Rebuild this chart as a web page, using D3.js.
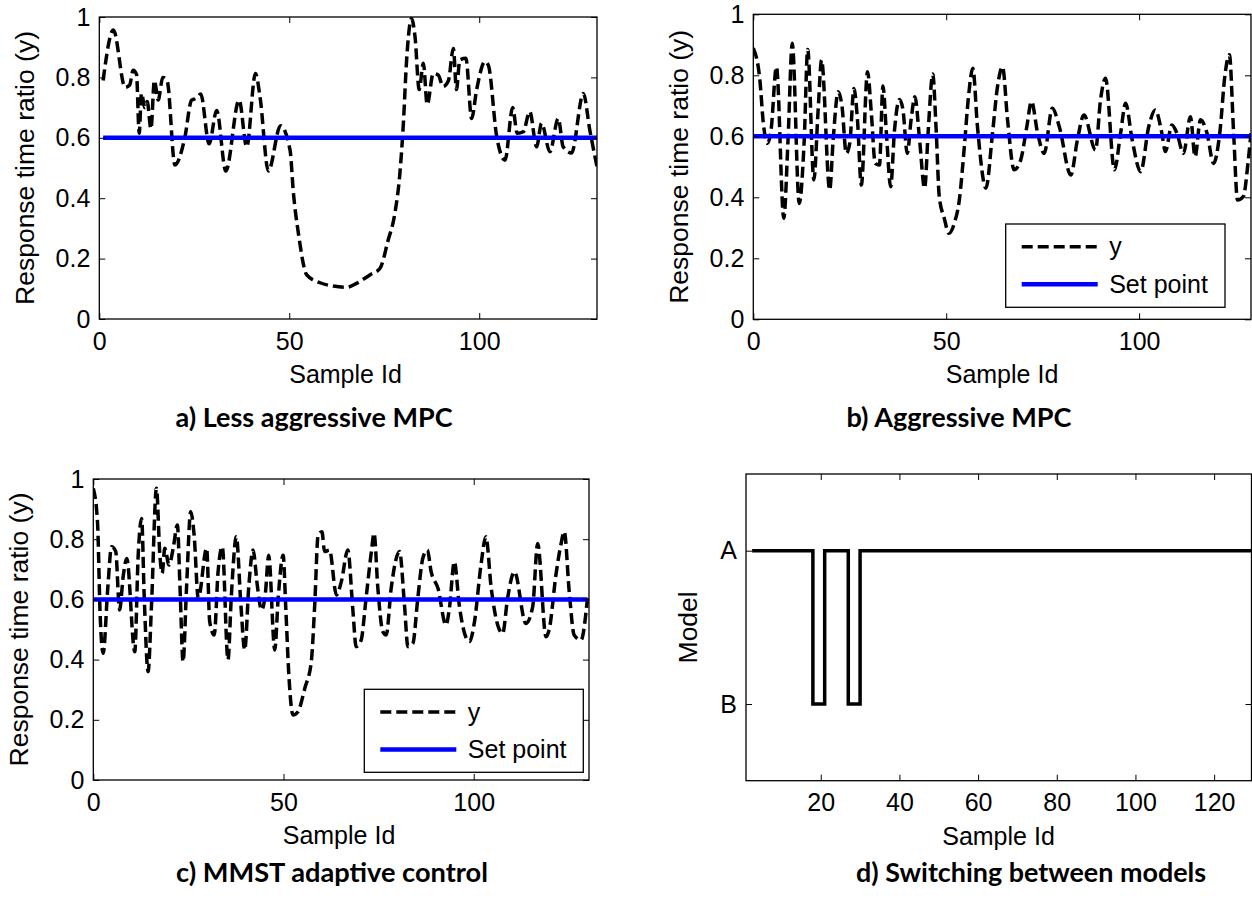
<!DOCTYPE html>
<html><head><meta charset="utf-8">
<script src="https://cdn.jsdelivr.net/npm/d3@7"></script>
<style>body{margin:0;background:#fff}svg{display:block}</style>
</head><body><svg id="c" width="1252" height="898"></svg>
<script>
// ---------- data ----------
const sampleA=[1,3.7,6.8,8,8.9,9.8,10.5,11.1,12,12.6,13.6,14.5,15.5,16.7,17.9,19.9,22.5,24.3,25.4,26.7,28.9,30.9,33.3,36.8,38.8,41.1,42.3,44.5,47.7,50.2,51.1,52.4,54.6,58.1,61.6,65.1,67.7,71.2,73.9,76,77.8,79.1,80,80.9,82.2,83.1,84.2,85.3,86.3,87.9,89.2,90.5,91.9,93.2,94,94.9,96.5,98,99.3,101.5,102.4,104.6,106.8,108.8,110,111.6,113.3,115.1,116.4,118.6,120.8,122.1,124.3,127.4,129.1,131];
const valueA=[0.79,0.957,0.767,0.775,0.824,0.81,0.615,0.747,0.70,0.72,0.63,0.79,0.725,0.80,0.786,0.51,0.60,0.725,0.73,0.745,0.58,0.69,0.49,0.725,0.57,0.813,0.736,0.49,0.64,0.56,0.416,0.284,0.146,0.12,0.109,0.105,0.118,0.146,0.168,0.26,0.35,0.48,0.64,0.86,0.995,0.935,0.76,0.847,0.71,0.813,0.808,0.77,0.79,0.896,0.76,0.858,0.863,0.664,0.758,0.852,0.84,0.604,0.526,0.70,0.615,0.62,0.687,0.57,0.648,0.554,0.664,0.57,0.55,0.747,0.626,0.504];

const sampleB=[0,1.7,2.6,3.7,4.6,6,7.9,9,10.1,11.9,13.2,14.1,15.7,16.8,17.7,19.8,20.7,22,23,24.1,25,26.1,27,28,29.6,30.6,31.6,32.7,33.6,34.5,35.6,36.6,37.9,38.8,39.9,40.9,41.9,43.1,44.4,45.4,46.5,47.4,48.2,49.5,50.7,52.1,53.4,54.7,55.7,56.9,58.1,60.3,62,63.3,64.6,65.9,67.6,69.3,70.9,72.1,73.7,75.4,77.5,79.3,82.3,84,85.7,88.7,90,91.3,93.6,95.2,96.5,98.2,100.4,102.5,104.2,105.9,106.8,108.5,109.8,111.5,113.3,114.5,115.9,117.6,119.3,120.9,122.3,123.4,124.5,125.5,127,128.3,129];
const valueB=[0.889,0.785,0.643,0.577,0.62,0.828,0.331,0.588,0.905,0.38,0.588,0.885,0.457,0.686,0.85,0.424,0.588,0.746,0.697,0.544,0.577,0.757,0.654,0.44,0.812,0.675,0.511,0.506,0.765,0.61,0.435,0.62,0.721,0.686,0.544,0.654,0.73,0.588,0.43,0.632,0.804,0.62,0.402,0.331,0.282,0.315,0.391,0.566,0.72,0.823,0.632,0.43,0.61,0.763,0.828,0.654,0.49,0.522,0.632,0.714,0.61,0.544,0.692,0.632,0.473,0.588,0.67,0.555,0.72,0.79,0.49,0.61,0.708,0.588,0.484,0.632,0.686,0.61,0.55,0.637,0.61,0.544,0.664,0.533,0.654,0.61,0.511,0.61,0.806,0.867,0.61,0.391,0.402,0.522,0.61];

const sampleC=[0,1.1,1.8,2.6,3.8,4.8,5.9,6.9,7.9,8.8,10.9,11.8,12.7,13.4,14.4,15.3,16.6,17.5,18.1,18.8,19.9,21,22.1,22.8,23.6,24.5,25.6,26.5,27.6,29.8,30.6,31.8,32.8,33.9,35.4,36.3,37.6,38.8,39.8,40.9,42,43.1,44.2,45.2,46.1,47.7,48.6,49.9,50.6,51.4,52.5,53.8,55.6,57.3,58.2,59.1,60.1,60.8,62.1,63.9,65.2,66.9,68.2,69.1,70.4,71.7,73.1,73.8,74.8,76.1,77,78.3,80.5,81.8,82.7,84,85.3,86.6,87.8,88.8,90.6,92.7,93.6,94.9,96.2,97.6,98.9,100.2,101.9,103.2,104.6,106.3,107.6,108.9,110.7,113.7,115.5,116.8,119,119.9,121.6,122.9,123.8,125.1,126.4,128.2,129.9];
const valueC=[0.969,0.858,0.548,0.421,0.637,0.775,0.759,0.565,0.681,0.736,0.426,0.747,0.869,0.603,0.36,0.581,0.969,0.747,0.687,0.77,0.714,0.77,0.847,0.637,0.393,0.637,0.891,0.814,0.603,0.77,0.526,0.482,0.692,0.775,0.399,0.615,0.808,0.581,0.432,0.648,0.764,0.648,0.565,0.615,0.747,0.432,0.604,0.747,0.57,0.349,0.216,0.227,0.305,0.393,0.581,0.814,0.825,0.759,0.764,0.615,0.659,0.764,0.57,0.443,0.465,0.604,0.759,0.82,0.637,0.493,0.482,0.637,0.759,0.581,0.443,0.454,0.604,0.736,0.764,0.692,0.637,0.515,0.57,0.725,0.581,0.487,0.46,0.526,0.714,0.808,0.637,0.515,0.487,0.604,0.692,0.52,0.576,0.786,0.476,0.504,0.681,0.781,0.825,0.626,0.482,0.465,0.604];

const setPoint=0.6;
const modelSample=[3,18,21,27,30,131];
const modelState=["A","B","A","B","A","A"];
const modelLevels=["B","A"];

const yTicksResp=[0,0.2,0.4,0.6,0.8,1];
const xTicksABC=[0,50,100];
const xTicksD=[20,40,60,80,100,120];

const titles=["a) Less aggressive MPC","b) Aggressive MPC","c) MMST adaptive control","d) Switching between models"];
const xLabel="Sample Id";
const yLabelResp="Response time ratio (y)";
const yLabelModel="Model";
const legendLabels=["y","Set point"];

// ---------- drawing ----------
const svg=d3.select("#c");
const FONT="'Liberation Sans', Arial, Helvetica, sans-serif";
const TFONT="Lato, 'Open Sans', sans-serif";
const TICK=6;

function axesFrame(g,p,x,y,yFmt,yTicks){
  const fs=25;
  const style=s=>{s.select(".domain").remove();s.attr("font-size",fs).attr("font-family",FONT);s.selectAll("line").attr("stroke","#000").attr("stroke-width",1);s.selectAll("text").attr("fill","#000");};
  g.append("g").attr("transform",`translate(0,${p.bottom})`)
    .call(d3.axisBottom(x).tickValues(p.xTicks).tickSize(-TICK).tickPadding(13).tickFormat(d3.format("d"))).call(style);
  g.append("g").attr("transform",`translate(0,${p.top})`)
    .call(d3.axisTop(x).tickValues(p.xTicks).tickSize(-TICK).tickFormat("")).call(style);
  g.append("g").attr("transform",`translate(${p.left},0)`)
    .call(d3.axisLeft(y).tickValues(yTicks).tickSize(-TICK).tickPadding(9).tickFormat(yFmt)).call(style);
  g.append("g").attr("transform",`translate(${p.right},0)`)
    .call(d3.axisRight(y).tickValues(yTicks).tickSize(-TICK).tickFormat("")).call(style);
  g.append("rect").attr("x",p.left).attr("y",p.top).attr("width",p.right-p.left).attr("height",p.bottom-p.top)
    .attr("fill","none").attr("stroke","#000").attr("stroke-width",1.3);
  // labels
  g.append("text").attr("x",p.xLabelX).attr("y",p.bottom+64).attr("text-anchor","middle")
    .attr("font-family",FONT).attr("font-size",25).text(xLabel);
  g.append("text").attr("transform",`translate(${p.yLabelX},${(p.top+p.bottom)/2}) rotate(-90)`)
    .attr("text-anchor","middle").attr("font-family",FONT).attr("font-size",26.5).text(p.yLabel);
  g.append("text").attr("x",p.titleX).attr("y",p.titleY).attr("text-anchor","middle")
    .attr("font-family",TFONT).attr("font-weight","bold").attr("font-size",27)
    .attr("textLength",p.titleW).attr("lengthAdjust","spacingAndGlyphs").text(p.title);
}

function respPanel(p,samples,values,legend){
  const x=d3.scaleLinear().domain(p.xDomain).range([p.left,p.right]);
  const y=d3.scaleLinear().domain([0,1]).range([p.bottom,p.top]);
  const g=svg.append("g");
  const cid="clip"+p.id;
  svg.append("clipPath").attr("id",cid).append("rect").attr("x",p.left).attr("y",p.top-2).attr("width",p.right-p.left).attr("height",p.bottom-p.top+4);
  const pts=samples.map((s,i)=>[s,values[i]]);
  const line=d3.line().x(d=>x(d[0])).y(d=>y(d[1])).curve(d3.curveMonotoneX);
  const dg=g.append("g").attr("clip-path",`url(#${cid})`);
  dg.append("path").attr("d",line(pts)).attr("fill","none").attr("stroke","#000").attr("stroke-width",3.5).attr("stroke-dasharray","11,5");
  const sp=[[samples[0],setPoint],[samples[samples.length-1],setPoint]];
  dg.append("path").attr("d",d3.line().x(d=>x(d[0])).y(d=>y(d[1]))(sp)).attr("fill","none").attr("stroke","#0000ff").attr("stroke-width",4.5);
  axesFrame(g,p,x,y,d3.format("~g"),yTicksResp);
  if(legend){
    const L=legend;
    g.append("rect").attr("x",L.x).attr("y",L.y).attr("width",L.w).attr("height",L.h).attr("fill","#fff").attr("stroke","#000").attr("stroke-width",1.3);
    const rows=[{dash:"11,5",col:"#000",sw:3.5},{dash:null,col:"#0000ff",sw:4.5}];
    rows.forEach((r,i)=>{
      const ly=L.y+22.7+i*37.5;
      const ln=g.append("line").attr("x1",L.x+16).attr("x2",L.x+92).attr("y1",ly).attr("y2",ly).attr("stroke",r.col).attr("stroke-width",r.sw);
      if(r.dash) ln.attr("stroke-dasharray",r.dash);
      g.append("text").attr("x",L.x+103.5).attr("y",ly+8.5).attr("font-family",FONT).attr("font-size",25).text(legendLabels[i]);
    });
  }
}

respPanel({id:"a",left:99.3,right:597,top:17,bottom:319,xDomain:[0,131],xTicks:xTicksABC,
  xLabelX:345.5,yLabelX:34,yLabel:yLabelResp,title:titles[0],titleX:314,titleY:427,titleW:277},sampleA,valueA,null);
respPanel({id:"b",left:753.3,right:1251,top:14.3,bottom:319.3,xDomain:[0,129],xTicks:xTicksABC,
  xLabelX:1002,yLabelX:688,yLabel:yLabelResp,title:titles[1],titleX:959,titleY:427,titleW:225},sampleB,valueB,
  {x:1005.7,y:224,w:219.3,h:83.3});
respPanel({id:"c",left:93.3,right:589,top:479,bottom:780,xDomain:[0,130.3],xTicks:xTicksABC,
  xLabelX:339,yLabelX:28,yLabel:yLabelResp,title:titles[2],titleX:332,titleY:882,titleW:312},sampleC,valueC,
  {x:364.3,y:689.3,w:219,h:83});

// panel d
(function(){
  const p={id:"d",left:746,right:1251.5,top:474,bottom:780.7,xDomain:[1,129.5],xTicks:xTicksD,
    xLabelX:998.5,yLabelX:697,yLabel:yLabelModel,title:titles[3],titleX:1031,titleY:882,titleW:350};
  const x=d3.scaleLinear().domain(p.xDomain).range([p.left,p.right]);
  const y=d3.scaleLinear().domain([-0.5,1.5]).range([p.bottom,p.top]);
  const g=svg.append("g");
  svg.append("clipPath").attr("id","clipd").append("rect").attr("x",p.left).attr("y",p.top).attr("width",p.right-p.left).attr("height",p.bottom-p.top);
  const pts=modelSample.map((s,i)=>[s,modelLevels.indexOf(modelState[i])]);
  const line=d3.line().x(d=>x(d[0])).y(d=>y(d[1])).curve(d3.curveStepAfter);
  g.append("g").attr("clip-path","url(#clipd)").append("path").attr("d",line(pts)).attr("fill","none")
    .attr("stroke","#000").attr("stroke-width",3.5).attr("stroke-linecap","square").attr("stroke-linejoin","miter");
  axesFrame(g,p,x,y,i=>modelLevels[i],[0,1]);
})();
</script></body></html>
